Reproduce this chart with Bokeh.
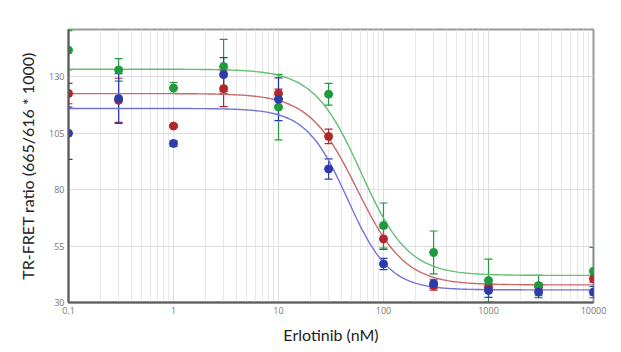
import numpy as np
from bokeh.plotting import figure
from bokeh.models import (ColumnDataSource, Whisker, TeeHead, FixedTicker,
                          CustomJSTickFormatter)
from bokeh.embed import file_html
from bokeh.resources import INLINE

# ---- data ----
conc = [0.1, 0.3, 1, 3, 10, 30, 100, 300, 1000, 3000, 10000]

green = [141.8, 133.1, 125.1, 134.6, 116.6, 122.3, 64.1, 52.2, 39.7, 37.5, 43.9]
green_sd = [8.7, 5.0, 2.4, 12.0, 14.5, 4.8, 10.0, 9.5, 9.5, 4.5, 10.5]

red = [122.6, 119.6, 108.2, 124.8, 122.6, 103.6, 58.2, 37.5, 36.8, 37.0, 40.5]
red_sd = [4.5, 9.8, 0.5, 8.0, 2.0, 3.2, 4.7, 2.0, 1.5, 1.5, 1.5]

blue = [105.0, 120.4, 100.5, 131.0, 120.1, 89.2, 47.1, 38.3, 35.3, 34.6, 34.6]
blue_sd = [11.6, 11.0, 1.3, 7.5, 9.5, 4.5, 2.5, 2.0, 3.0, 2.5, 2.5]

# four-parameter logistic fits: top, bottom, IC50 (nM), Hill slope
green_fit = [133.4, 42.0, 61.0, 1.93]
red_fit = [122.6, 37.8, 56.0, 1.90]
blue_fit = [116.0, 35.6, 45.5, 2.19]

x_ticks = [0.1, 1, 10, 100, 1000, 10000]
y_ticks = [30, 55, 80, 105, 130]

series = [
    ("red", red, red_sd, red_fit, "#b3262a", "#c66a6a"),
    ("green", green, green_sd, green_fit, "#1f9a3e", "#63bf72"),
    ("blue", blue, blue_sd, blue_fit, "#2c3cab", "#7373d6"),
]

p = figure(width=621, height=352, x_axis_type="log",
           x_range=(0.1, 10000), y_range=(30, 151),
           output_backend="svg", toolbar_location=None,
           min_border_left=68, min_border_right=28,
           min_border_top=29, min_border_bottom=50)
p.background_fill_color = "white"
p.border_fill_color = "white"
p.outline_line_color = "#9a9a9a"
p.outline_line_width = 2

minor = []
for d in [0.1, 1, 10, 100, 1000]:
    for k in range(2, 10):
        minor.append(d * k)

p.xaxis.ticker = FixedTicker(ticks=x_ticks, minor_ticks=minor)
p.yaxis.ticker = FixedTicker(ticks=y_ticks)
p.xaxis.formatter = CustomJSTickFormatter(code="return tick.toString();")

for ax in (p.xaxis, p.yaxis):
    ax.major_tick_out = 0
    ax.major_tick_in = 0
    ax.minor_tick_out = 0
    ax.minor_tick_in = 0
    ax.axis_line_color = "#5a5a5a"
    ax.axis_line_width = 2
    ax.major_label_text_font = "Open Sans"
    ax.major_label_text_font_size = "9px"
    ax.major_label_text_color = "#777777"
    ax.axis_label_text_font = "Lato"
    ax.axis_label_text_font_style = "normal"
    ax.axis_label_text_color = "#222222"
    ax.axis_label_text_font_size = "16px"
    ax.major_label_standoff = 4

p.xaxis.axis_label = "Erlotinib (nM)"
p.yaxis.axis_label = "TR-FRET ratio (665/616 * 1000)"
p.xaxis.axis_label_standoff = 8
p.yaxis.axis_label_standoff = 9

p.xgrid.grid_line_color = "#dedede"
p.xgrid.minor_grid_line_color = "#e8e8e8"
p.ygrid.grid_line_color = "#dedede"

xs = np.logspace(-1, 4, 300)
for name, vals, sd, fit, col, lcol in series:
    top, bot, ic50, h = fit
    ys = bot + (top - bot) / (1 + (xs / ic50) ** h)
    p.line(xs, ys, line_color=lcol, line_width=1.4)

for name, vals, sd, fit, col, lcol in series:
    src = ColumnDataSource(dict(
        x=conc, y=vals,
        upper=[v + s for v, s in zip(vals, sd)],
        lower=[v - s for v, s in zip(vals, sd)]))
    w = Whisker(base="x", upper="upper", lower="lower", source=src,
                line_color=col, line_width=1.2,
                upper_head=TeeHead(size=8, line_color=col, line_width=1.2),
                lower_head=TeeHead(size=8, line_color=col, line_width=1.2))
    p.add_layout(w)
    p.scatter("x", "y", source=src, size=8, fill_color=col, line_color=col)

open("out.html", "w").write(file_html(p, INLINE))
